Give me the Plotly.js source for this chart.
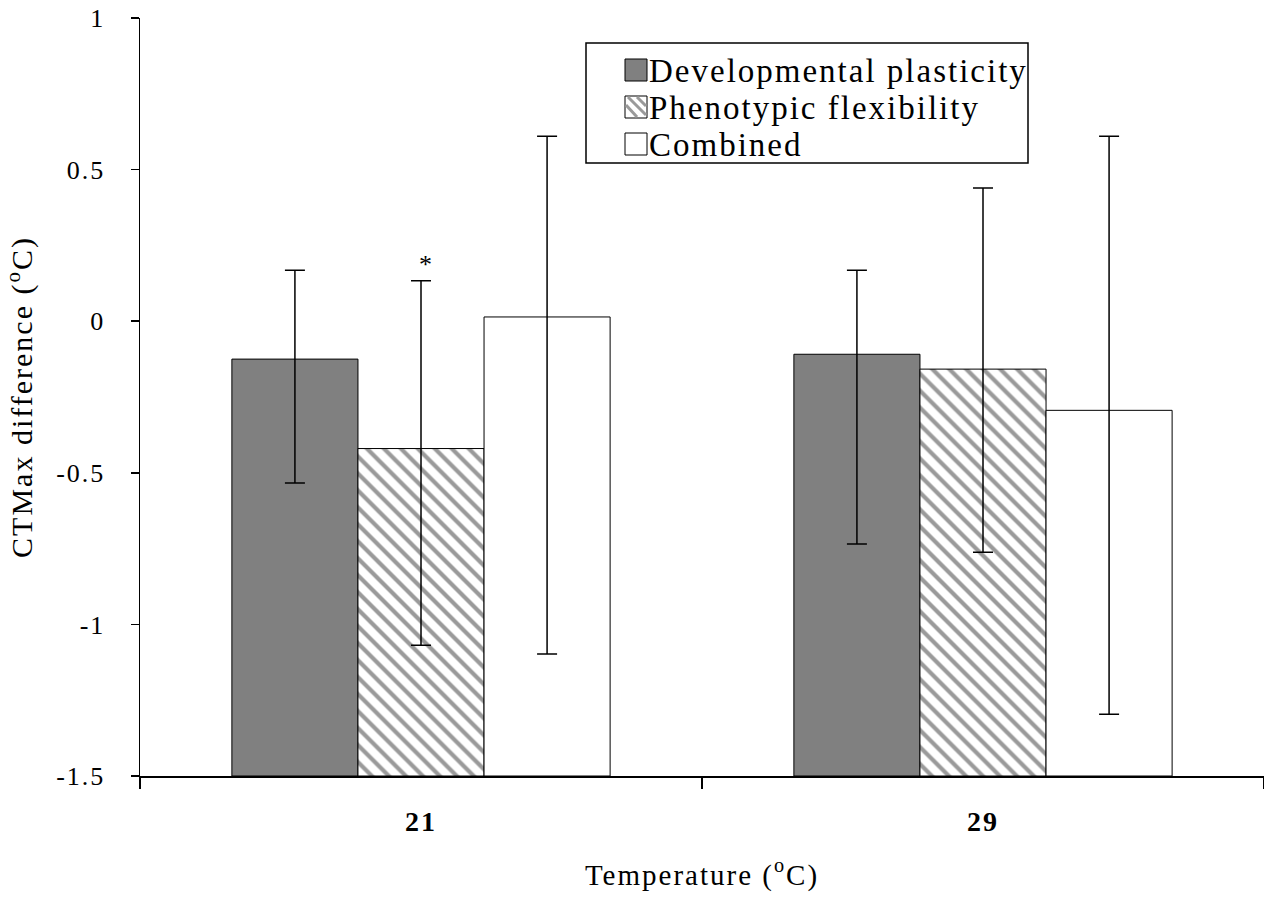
<!DOCTYPE html>
<html>
<head>
<meta charset="utf-8">
<script src="https://cdn.plot.ly/plotly-3.0.1.min.js"></script>
<style>
html,body{margin:0;padding:0;background:#fff;}
#chart{width:1264px;height:901px;}
#chart .main-svg text{letter-spacing:2px;}
</style>
</head>
<body>
<div id="chart"></div>
<script>
// Data
var categories = ["21", "29"];
var seriesNames = ["Developmental plasticity", "Phenotypic flexibility", "Combined"];
var devMean = [-0.125, -0.109];
var devUpper = [0.168, 0.168];
var devLower = [-0.534, -0.735];
var phenMean = [-0.42, -0.158];
var phenUpper = [0.133, 0.439];
var phenLower = [-1.069, -0.762];
var combMean = [0.014, -0.294];
var combUpper = [0.61, 0.61];
var combLower = [-1.098, -1.296];
var yTickVals = [-1.5, -1, -0.5, 0, 0.5, 1];
var yTickText = ["-1.5", "-1", "-0.5", "0", "0.5", "1"];
var baseValue = -1.5;

var FONT = "Liberation Serif, Times New Roman, serif";
var W = 1264, H = 901, ML = 140, MR = 0, MT = 18, MB = 125;
function px2x(px) { return (px - ML) / (W - ML - MR); }
function px2y(py) { return (H - MB - py) / (H - MT - MB); }

var DP_FILL = "#808080";
var STRIPE = "#9a9a9a";

function makeTrace(name, mean, upper, lower, marker) {
  return {
    type: "bar",
    name: name,
    x: categories,
    y: mean.map(function (v) { return v - baseValue; }),
    base: mean.map(function () { return baseValue; }),
    marker: marker,
    error_y: {
      type: "data",
      symmetric: false,
      array: upper.map(function (u, i) { return u - mean[i]; }),
      arrayminus: lower.map(function (l, i) { return mean[i] - l; }),
      color: "#000",
      thickness: 1.5,
      width: 10
    },
    showlegend: false,
    hoverinfo: "skip"
  };
}

var traces = [
  makeTrace(seriesNames[0], devMean, devUpper, devLower,
    { color: DP_FILL, line: { color: "#000", width: 1 } }),
  makeTrace(seriesNames[1], phenMean, phenUpper, phenLower,
    { color: "#ffffff", line: { color: "#000", width: 1 },
      pattern: { shape: "\\", fgcolor: STRIPE, bgcolor: "#ffffff", size: 12, solidity: 0.35 } }),
  makeTrace(seriesNames[2], combMean, combUpper, combLower,
    { color: "#ffffff", line: { color: "#000", width: 1 } })
];

// Custom legend (box, symbols, labels)
var legBox = { x0: 586, x1: 1028, y0: 43, y1: 163 };
var legRows = [70, 107, 144];
var symX0 = 625, symX1 = 647, symHalf = 11;
var shapes = [
  { type: "rect", xref: "paper", yref: "paper",
    x0: px2x(legBox.x0), x1: px2x(legBox.x1), y0: px2y(legBox.y0), y1: px2y(legBox.y1),
    line: { color: "#000", width: 1.5 }, fillcolor: "#fff", layer: "above" }
];
var symFills = [DP_FILL, "#fff", "#fff"];
legRows.forEach(function (cy, i) {
  shapes.push({ type: "rect", xref: "paper", yref: "paper",
    x0: px2x(symX0), x1: px2x(symX1), y0: px2y(cy - symHalf), y1: px2y(cy + symHalf),
    line: { color: "#000", width: 1 }, fillcolor: symFills[i], layer: "above" });
});
// stripes for the hatched legend symbol
var cyP = legRows[1];
[[symX0 + 3, cyP - symHalf + 1, symX1 - 1, cyP + symHalf - 3],
 [symX0 + 1, cyP - symHalf + 9, symX0 + 12, cyP + symHalf - 1],
 [symX0 + 12, cyP - symHalf + 1, symX1 - 1, cyP - 1]].forEach(function (s) {
  shapes.push({ type: "line", xref: "paper", yref: "paper",
    x0: px2x(s[0]), y0: px2y(s[1]), x1: px2x(s[2]), y1: px2y(s[3]),
    line: { color: STRIPE, width: 3 }, layer: "above" });
});

var annotations = seriesNames.map(function (name, i) {
  return { xref: "paper", yref: "paper", x: px2x(648), y: px2y(legRows[i] + 1),
    xanchor: "left", yanchor: "middle", text: name, showarrow: false,
    width: 378, align: "left", borderpad: 0,
    font: { family: FONT, size: 33, color: "#000" } };
});
annotations.push({
  xref: "paper", yref: "y",
  x: px2x(418), y: phenUpper[0],
  text: "*", showarrow: false, yanchor: "bottom",
  font: { family: FONT, size: 26, color: "#000" }
});

var layout = {
  width: W,
  height: H,
  margin: { l: ML, r: MR, t: MT, b: MB },
  paper_bgcolor: "#fff",
  plot_bgcolor: "#fff",
  font: { family: FONT, color: "#000", size: 24 },
  barmode: "group",
  bargap: 0.327,
  bargroupgap: 0,
  showlegend: false,
  xaxis: {
    type: "category",
    showline: true, linecolor: "#000", linewidth: 1.5,
    ticks: "outside", tickson: "boundaries", ticklen: 11, tickcolor: "#000", tickwidth: 1.5,
    ticklabelstandoff: 20,
    tickfont: { family: FONT, size: 28, color: "#000", weight: "bold" },
    showgrid: false, zeroline: false,
    title: { text: "Temperature (<sup>o</sup>C)", font: { family: FONT, size: 29, color: "#000" }, standoff: 28 }
  },
  yaxis: {
    range: [-1.5, 1],
    tickmode: "array", tickvals: yTickVals, ticktext: yTickText,
    showline: true, linecolor: "#000", linewidth: 1.5,
    ticks: "outside", ticklen: 8, tickcolor: "#000", tickwidth: 1.5,
    ticklabelstandoff: 20,
    tickfont: { family: FONT, size: 26, color: "#000" },
    showgrid: false, zeroline: false,
    title: { text: "CTMax difference (<sup>o</sup>C)", font: { family: FONT, size: 30, color: "#000" }, standoff: 22 }
  },
  shapes: shapes,
  annotations: annotations
};

Plotly.newPlot("chart", traces, layout, { staticPlot: true, displayModeBar: false });
</script>
</body>
</html>
